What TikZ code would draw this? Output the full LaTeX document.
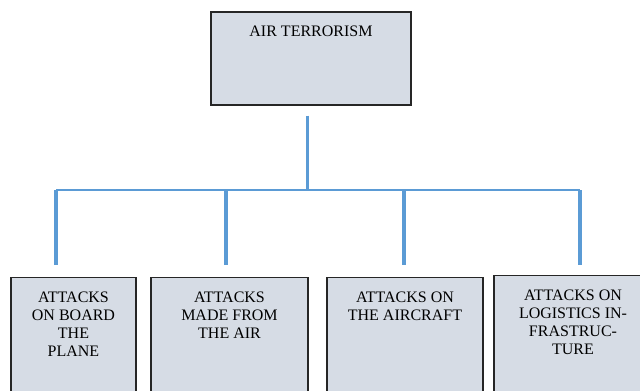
\documentclass[tikz,border=0pt]{standalone}
\usepackage{fontspec}
\setmainfont{Liberation Serif}
\usepackage{tikz}
\usetikzlibrary{calc, positioning}
\definecolor{boxfill}{HTML}{D6DCE5}
\definecolor{linkblue}{HTML}{5B9BD5}

\begin{document}
\begin{tikzpicture}[x=0.75pt, y=-0.75pt,
	box/.style={draw=black!85, line width=0.8pt, fill=boxfill, inner sep=0pt},
	lbl/.style={inner sep=0pt, align=center, font=\fontsize{12}{13.7}\selectfont},
	trunk/.style={draw=linkblue, line width=2.6pt},
	rail/.style={draw=linkblue, line width=1.3pt}]
	\path[use as bounding box, clip] (0,0) rectangle (640,390);

	% top box
	\node[box, minimum width=150pt, minimum height=69.75pt] (air) at (311,58.5) {};
	\node[lbl, below=11pt of air.north] (airtxt) {AIR TERRORISM};

	% bottom boxes
	\node[box, minimum width=93.75pt, minimum height=100pt] (board) at (73.5,343.7) {};
	\node[box, minimum width=117.75pt, minimum height=100pt] (made) at (229.5,343.7) {};
	\node[box, minimum width=117pt, minimum height=100pt] (craft) at (405,343.7) {};
	\node[box, minimum width=118.5pt, minimum height=101.5pt] (logist) at (573,342.7) {};

	\node[lbl, below=11pt of board.north] (boardtxt) {ATTACKS\\ON BOARD\\THE\\PLANE};
	\node[lbl, below=11pt of made.north] (madetxt) {ATTACKS\\MADE FROM\\THE AIR};
	\node[lbl, below=11pt of craft.north] (crafttxt) {ATTACKS ON\\THE AIRCRAFT};
	\node[lbl, below=11pt of logist.north] (logisttxt) {ATTACKS ON\\LOGISTICS IN-\\FRASTRUC-\\TURE};

	% junctions on the rail
	\coordinate (hub) at (air.south |- 0,190);
	\coordinate (j1) at (56,190);
	\coordinate (j2) at (226,190);
	\coordinate (j3) at (404,190);
	\coordinate (j4) at (580,190);

	\draw[trunk, shorten <= 7.5pt] ($(air.south)+(-3.5,0)$) -- ($(hub)+(-3.5,0)$);
	\draw[rail] (j1) -- (j4);
	\draw[trunk, shorten >= 9pt] (j1) -- (j1 |- board.north);
	\draw[trunk, shorten >= 9pt] (j2) -- (j2 |- made.north);
	\draw[trunk, shorten >= 9pt] (j3) -- (j3 |- craft.north);
	\draw[trunk, shorten >= 7.5pt] (j4) -- (j4 |- logist.north);
\end{tikzpicture}
\end{document}
